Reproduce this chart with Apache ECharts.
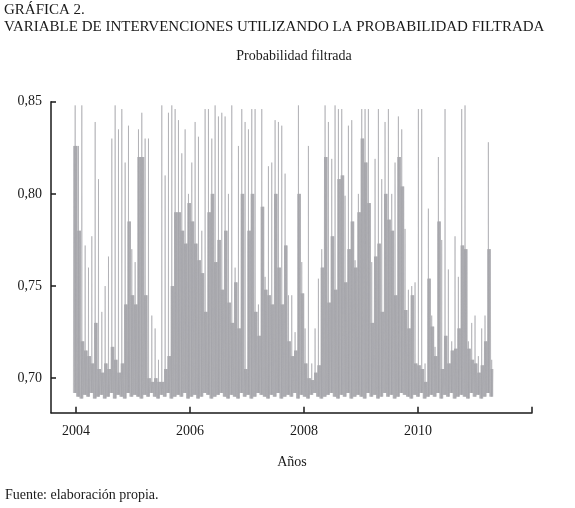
<!DOCTYPE html>
<html>
<head>
<meta charset="utf-8">
<script src="https://cdn.jsdelivr.net/npm/echarts@6/dist/echarts.min.js"></script>
<style>
  html, body { margin: 0; padding: 0; background: #fff; }
  #chart { width: 575px; height: 508px; }
</style>
</head>
<body>
<div id="chart"></div>
<script>
// filtered probability, summarised in slots of ~3 weeks (start early 2004)
const slotStart = 2003.953
const slotYears = 0.05847

// highest value reached inside each slot (thin spikes)
const peaks = [
  0.848, 0.826, 0.848, 0.772, 0.760, 0.777, 0.839, 0.808, 0.736, 0.750,
  0.766, 0.830, 0.848, 0.835, 0.846, 0.817, 0.837, 0.770, 0.763, 0.835,
  0.844, 0.830, 0.830, 0.734, 0.727, 0.710, 0.848, 0.810, 0.844, 0.848,
  0.846, 0.840, 0.822, 0.835, 0.800, 0.817, 0.839, 0.831, 0.780, 0.846, 0.846,
  0.830, 0.848, 0.842, 0.844, 0.842, 0.800, 0.848, 0.760, 0.826, 0.846,
  0.839, 0.835, 0.846, 0.846, 0.740, 0.846, 0.755, 0.815, 0.817, 0.840, 0.839,
  0.837, 0.811, 0.745, 0.745, 0.725, 0.848, 0.763, 0.727, 0.826, 0.708,
  0.727, 0.754, 0.770, 0.848, 0.839, 0.819, 0.848, 0.846, 0.846, 0.799, 0.837,
  0.840, 0.764, 0.800, 0.846, 0.846, 0.846, 0.763, 0.819, 0.846, 0.808,
  0.839, 0.846, 0.800, 0.817, 0.842, 0.835, 0.781, 0.748, 0.750, 0.752, 0.846,
  0.846, 0.708, 0.792, 0.734, 0.717, 0.820, 0.775, 0.846, 0.759, 0.720,
  0.777, 0.755, 0.846, 0.848, 0.720, 0.730, 0.734, 0.712, 0.727, 0.734, 0.828, 0.710,
]

// level the dense part of the series keeps reaching inside each slot
const bodies = [
  0.826, 0.780, 0.720, 0.715, 0.712, 0.708, 0.730, 0.705, 0.703, 0.708,
  0.705, 0.717, 0.710, 0.703, 0.708, 0.740, 0.785, 0.745, 0.740, 0.820,
  0.820, 0.745, 0.700, 0.698, 0.700, 0.698, 0.698, 0.705, 0.712, 0.750,
  0.790, 0.790, 0.780, 0.773, 0.795, 0.785, 0.773, 0.764, 0.757, 0.736, 0.790,
  0.800, 0.763, 0.775, 0.748, 0.780, 0.741, 0.730, 0.752, 0.727, 0.800,
  0.705, 0.780, 0.800, 0.736, 0.723, 0.793, 0.748, 0.745, 0.740, 0.800, 0.760,
  0.740, 0.772, 0.720, 0.712, 0.715, 0.800, 0.746, 0.708, 0.700, 0.699,
  0.703, 0.707, 0.760, 0.820, 0.741, 0.777, 0.748, 0.808, 0.810, 0.752, 0.770,
  0.785, 0.760, 0.790, 0.830, 0.817, 0.795, 0.730, 0.766, 0.773, 0.736,
  0.800, 0.786, 0.780, 0.745, 0.820, 0.804, 0.737, 0.727, 0.745, 0.708, 0.707,
  0.705, 0.698, 0.754, 0.728, 0.712, 0.785, 0.705, 0.723, 0.708, 0.715,
  0.716, 0.727, 0.772, 0.770, 0.716, 0.710, 0.708, 0.703, 0.707, 0.720, 0.770, 0.705,
]

// lowest value inside each slot
const lows = [
  0.692, 0.690, 0.689, 0.691, 0.690, 0.692, 0.689, 0.690, 0.691, 0.689,
  0.690, 0.692, 0.689, 0.691, 0.690, 0.689, 0.692, 0.690, 0.691, 0.690,
  0.689, 0.691, 0.690, 0.692, 0.690, 0.689, 0.691, 0.690, 0.692, 0.689,
  0.690, 0.691, 0.690, 0.692, 0.689, 0.690, 0.691, 0.689, 0.690, 0.692,
  0.691, 0.689, 0.690, 0.691, 0.692, 0.690, 0.689, 0.691, 0.690, 0.689,
  0.692, 0.690, 0.691, 0.689, 0.690, 0.692, 0.691, 0.690, 0.689, 0.691,
  0.690, 0.692, 0.689, 0.690, 0.691, 0.690, 0.692, 0.689, 0.691, 0.690,
  0.689, 0.691, 0.692, 0.690, 0.689, 0.690, 0.691, 0.692, 0.690, 0.689,
  0.691, 0.690, 0.692, 0.689, 0.690, 0.691, 0.690, 0.689, 0.692, 0.690,
  0.691, 0.689, 0.690, 0.692, 0.690, 0.691, 0.689, 0.690, 0.692, 0.691,
  0.690, 0.689, 0.691, 0.690, 0.692, 0.689, 0.690, 0.691, 0.690, 0.692,
  0.689, 0.691, 0.690, 0.692, 0.689, 0.690, 0.691, 0.690, 0.689, 0.692,
  0.690, 0.691, 0.689, 0.690, 0.692, 0.690,
]

const yearTicks = [2004, 2006, 2008, 2010, 2012]
const yearLabels = [2004, 2006, 2008, 2010]
const probTicks = [0.70, 0.75, 0.80, 0.85]

// inside a slot the daily series swings between its low and the body level
// several times (the first swing still at the previous slot's level),
// and once up to the peak, as a narrow spike
const points = []
peaks.forEach((peak, i) => {
  const lo = lows[i]
  const body = bodies[i]
  const prev = i > 0 ? bodies[i - 1] : body
  const seq = [
    [0.00, lo], [0.12, prev], [0.24, lo], [0.36, body], [0.48, lo],
    [0.53, peak], [0.58, lo], [0.70, body], [0.82, lo], [0.92, body],
  ]
  seq.forEach(([off, v]) => {
    points.push([slotStart + (i + off) * slotYears, v])
  })
})

const serif = '"Liberation Serif", "DejaVu Serif", serif'
const ink = '#1a1a1a'
const grey = '#9e9ea3'

const chart = echarts.init(document.getElementById('chart'), null, { renderer: 'canvas' })

chart.setOption({
  animation: false,
  backgroundColor: '#fff',
  title: [
    { text: 'GRÁFICA 2.', left: 4, top: 3, padding: 0, textStyle: { fontFamily: serif, fontSize: 15, fontWeight: 'normal', color: ink } },
    { text: 'VARIABLE DE INTERVENCIONES UTILIZANDO LA PROBABILIDAD FILTRADA', left: 4, top: 20, padding: 0, textStyle: { fontFamily: serif, fontSize: 15, fontWeight: 'normal', color: ink } },
    { text: 'Probabilidad filtrada', left: 294, top: 49, padding: 0, textAlign: 'center', textStyle: { fontFamily: serif, fontSize: 14, fontWeight: 'normal', color: ink } },
    { text: 'Años', left: 292, top: 455, padding: 0, textAlign: 'center', textStyle: { fontFamily: serif, fontSize: 14, fontWeight: 'normal', color: ink } },
    { text: 'Fuente: elaboración propia.', left: 5, top: 488, padding: 0, textStyle: { fontFamily: serif, fontSize: 14, fontWeight: 'normal', color: ink } },
  ],
  grid: { left: 51, right: 43, top: 101.7, bottom: 95.3 },
  xAxis: {
    type: 'value',
    min: 2003.56,
    max: 2012,
    axisLine: { lineStyle: { color: ink, width: 1.5 } },
    axisTick: { show: true, inside: true, length: 6, customValues: yearTicks, lineStyle: { color: ink, width: 1.5 } },
    axisLabel: {
      customValues: yearLabels,
      margin: 12,
      fontFamily: serif,
      fontSize: 14,
      color: ink,
      formatter: v => String(v),
    },
    splitLine: { show: false },
  },
  yAxis: {
    type: 'value',
    min: 0.6813,
    max: 0.85,
    axisLine: { show: true, lineStyle: { color: ink, width: 1.5 } },
    axisTick: { show: true, inside: true, length: 5, customValues: probTicks, lineStyle: { color: ink, width: 1.5 } },
    axisLabel: {
      customValues: probTicks,
      margin: 9,
      fontFamily: serif,
      fontSize: 14,
      color: ink,
      formatter: v => v.toFixed(2).replace('.', ','),
    },
    splitLine: { show: false },
  },
  series: [
    {
      type: 'line',
      data: points,
      showSymbol: false,
      sampling: false,
      lineStyle: { color: grey, width: 0.55 },
      emphasis: { disabled: true },
    },
  ],
})
</script>
</body>
</html>
